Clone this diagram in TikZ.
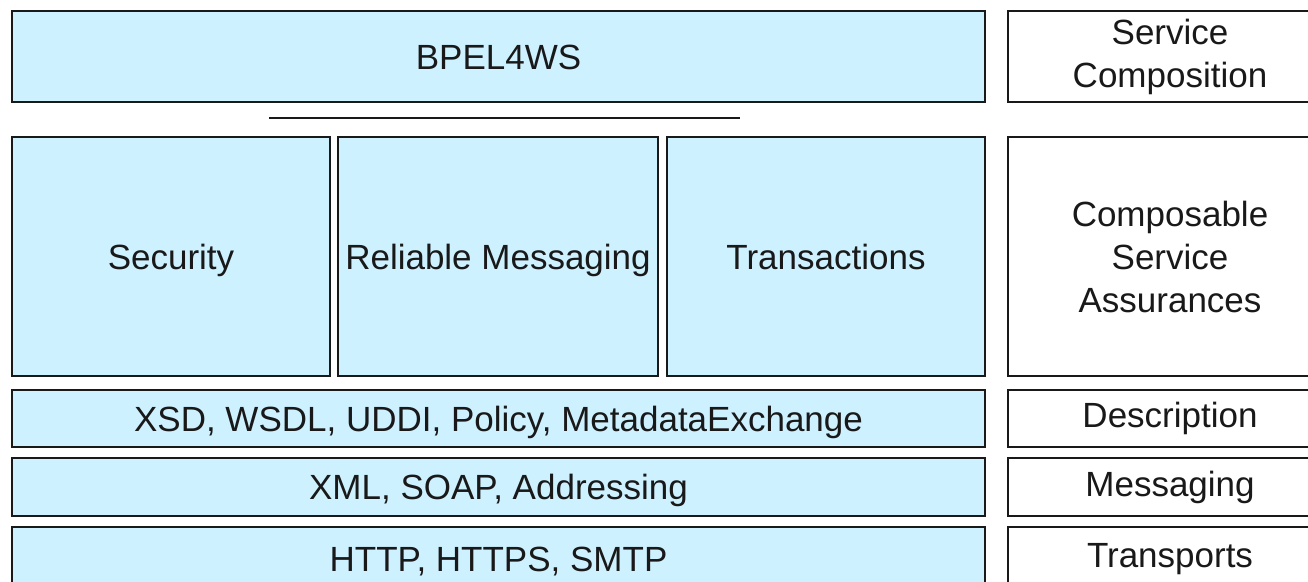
\documentclass[tikz,border=0pt]{standalone}
\usepackage{fontspec}
\setmainfont{Liberation Sans}
\definecolor{boxfill}{RGB}{206,241,255}
\definecolor{boxedge}{RGB}{25,25,25}
\definecolor{txt}{RGB}{25,25,25}
\tikzset{
  layer/.style={draw=boxedge, line width=2.4pt, fill=boxfill, inner sep=0pt,
    text=txt, font=\fontsize{35}{43}\selectfont, anchor=center,
    text height=25pt, text depth=0pt},
  label box/.style={draw=boxedge, line width=1.9pt, fill=white, inner sep=0pt,
    text=txt, font=\fontsize{35}{43}\selectfont, align=center, anchor=center},
  sepline/.style={draw=boxedge, line width=2pt}
}
\begin{document}
\begin{tikzpicture}[x=1pt, y=-1pt]
\useasboundingbox (0,0) rectangle (1308,581);
\clip (0,0) rectangle (1308,581);
% left column
\node[layer, minimum width=973, minimum height=91] (bpel) at (498.5,56.5) {BPEL4WS};
\node[layer, minimum width=318, minimum height=239] (sec) at (171,256.5) {Security};
\node[layer, minimum width=320, minimum height=239] (rm) at (498,256.5) {Reliable Messaging};
\node[layer, minimum width=318, minimum height=239] (tr) at (826,256.5) {Transactions};
\node[layer, minimum width=973, minimum height=57] (xsd) at (498.5,418.5) {XSD, WSDL, UDDI, Policy, MetadataExchange};
\node[layer, minimum width=973, minimum height=58] (xml) at (498.5,487) {XML, SOAP, Addressing};
\node[layer, minimum width=973, minimum height=64] (http) at (498.5,559) {HTTP, HTTPS, SMTP};
% right column
\node[label box, minimum width=324, minimum height=91] (sc) at (1170,56.5) {Service\\Composition};
\node[label box, minimum width=324, minimum height=239] (csa) at (1170,256.5) {Composable\\Service\\Assurances};
\node[label box, minimum width=324, minimum height=57] (desc) at (1170,418.5) {Description};
\node[label box, minimum width=324, minimum height=58] (msg) at (1170,487) {Messaging};
\node[label box, minimum width=324, minimum height=64] (trn) at (1170,559) {Transports};
% separator line
\coordinate (la) at (269,118);
\coordinate (lb) at (740,118);
\draw[sepline] (la) -- (lb);
\end{tikzpicture}
\end{document}
